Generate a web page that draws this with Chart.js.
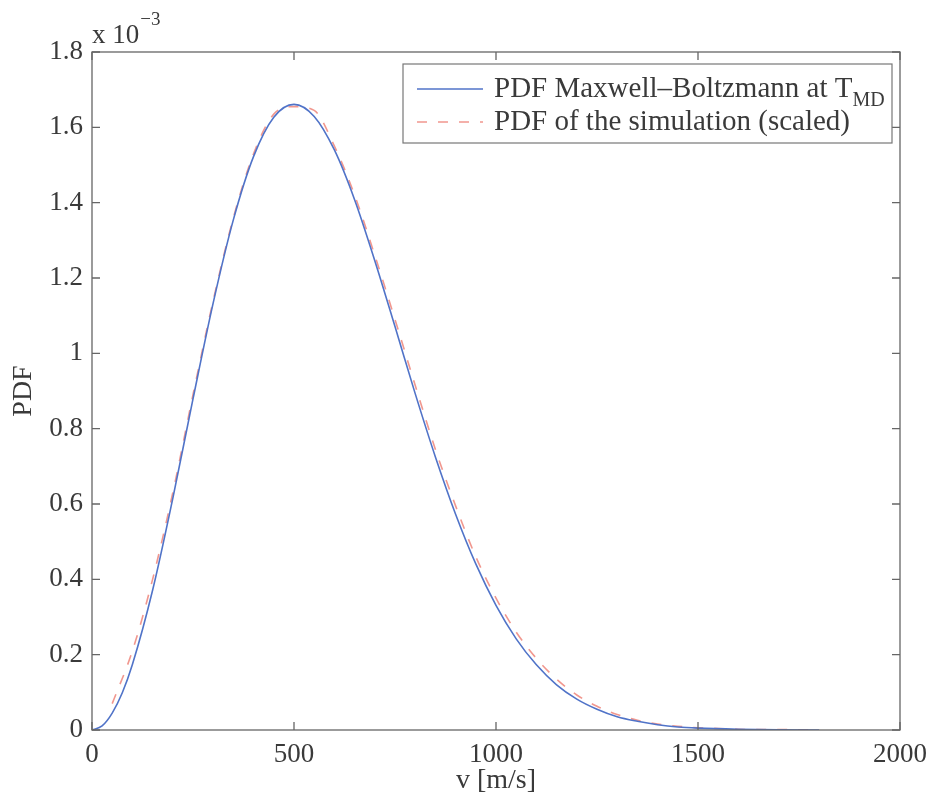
<!DOCTYPE html>
<html>
<head>
<meta charset="utf-8">
<script src="https://cdn.jsdelivr.net/npm/chart.js@4/dist/chart.umd.min.js"></script>
<style>
  html, body { margin: 0; padding: 0; background: #fff; }
  #wrap { width: 936px; height: 797px; }
</style>
</head>
<body>
<div id="wrap"><canvas id="myChart" width="936" height="797"></canvas></div>
<script>
// speed v [m/s] and PDF values in units of 1e-3
const speedMB = [0, 25, 50, 75, 100, 150, 200, 250, 300, 350, 400, 450, 500, 550, 600, 650, 700, 750, 800, 850, 900, 950,
  1000, 1050, 1100, 1150, 1200, 1250, 1300, 1350, 1400, 1450, 1500, 1600, 1700, 1800];
const pdfMB = [0, 0.011, 0.045, 0.099, 0.174, 0.371, 0.615, 0.879, 1.134, 1.355, 1.523, 1.627, 1.661, 1.629, 1.540, 1.408, 1.246, 1.071, 0.893, 0.725, 0.573, 0.441,
  0.331, 0.242, 0.173, 0.120, 0.082, 0.055, 0.035, 0.023, 0.014, 0.008, 0.005, 0.002, 0.0005, 0.0001];

const speedSim = [50, 100, 150, 200, 250, 300, 350, 400, 450, 500, 550, 600, 650, 700, 750, 800, 850, 900, 950,
  1000, 1050, 1100, 1150, 1200, 1250, 1300, 1350, 1400, 1450, 1500, 1550, 1600, 1650, 1700, 1750, 1800];
const pdfSim = [0.07, 0.21, 0.40, 0.63, 0.89, 1.14, 1.36, 1.53, 1.635, 1.655, 1.645, 1.55, 1.42, 1.26, 1.09, 0.915, 0.745, 0.595, 0.46,
  0.35, 0.26, 0.19, 0.135, 0.093, 0.063, 0.041, 0.026, 0.016, 0.010, 0.006, 0.004, 0.002, 0.001, 0.001, 0.0005, 0.0];

const xTicks = [0, 500, 1000, 1500, 2000];
const yTicks = [0, 0.2, 0.4, 0.6, 0.8, 1, 1.2, 1.4, 1.6, 1.8];

const labelMB = "PDF Maxwell\u2013Boltzmann at T";
const labelSim = "PDF of the simulation (scaled)";

const textColor = "#3a3a3a";
const axisColor = "#666666";
const serif = "'Liberation Serif', 'Times New Roman', Times, Tinos, 'Nimbus Roman', 'DejaVu Serif', 'Noto Serif', FreeSerif, serif";

const toPoints = (xs, ys) => xs.map((x, i) => ({ x: x, y: ys[i] }));

// frame with inward ticks on all four sides, exponent label, legend box
const framePlugin = {
  id: "frame",
  afterDraw(chart) {
    const { ctx, chartArea: a, scales } = chart;
    const tl = 8;
    ctx.save();
    ctx.strokeStyle = axisColor;
    ctx.lineWidth = 1.3;
    ctx.strokeRect(a.left, a.top, a.right - a.left, a.bottom - a.top);
    ctx.beginPath();
    xTicks.forEach(t => {
      const px = scales.x.getPixelForValue(t);
      ctx.moveTo(px, a.bottom); ctx.lineTo(px, a.bottom - tl);
      ctx.moveTo(px, a.top); ctx.lineTo(px, a.top + tl);
    });
    yTicks.forEach(t => {
      const py = scales.y.getPixelForValue(t);
      ctx.moveTo(a.left, py); ctx.lineTo(a.left + tl, py);
      ctx.moveTo(a.right, py); ctx.lineTo(a.right - tl, py);
    });
    ctx.stroke();

    // x 10^-3
    ctx.fillStyle = textColor;
    ctx.textBaseline = "alphabetic";
    ctx.textAlign = "left";
    ctx.font = "27px " + serif;
    ctx.fillText("x 10", a.left, a.top - 9);
    const w = ctx.measureText("x 10").width;
    ctx.font = "19px " + serif;
    ctx.fillText("\u22123", a.left + w + 1, a.top - 27);

    // legend
    const bx = 403, by = 64, bw = 489, bh = 79;
    ctx.fillStyle = "#fff";
    ctx.fillRect(bx, by, bw, bh);
    ctx.strokeStyle = "#777";
    ctx.lineWidth = 1.2;
    ctx.strokeRect(bx, by, bw, bh);
    const rows = [89, 122];
    chart.data.datasets.forEach((ds, i) => {
      const y = rows[i];
      ctx.beginPath();
      ctx.strokeStyle = ds.borderColor;
      ctx.lineWidth = ds.borderWidth;
      ctx.setLineDash(ds.borderDash || []);
      ctx.moveTo(417, y); ctx.lineTo(483, y);
      ctx.stroke();
      ctx.setLineDash([]);
      ctx.fillStyle = textColor;
      ctx.font = "29px " + serif;
      ctx.textBaseline = "middle";
      ctx.fillText(ds.label, 494, y);
      if (i === 0) {
        const tw = ctx.measureText(ds.label).width;
        ctx.font = "20px " + serif;
        ctx.fillText("MD", 494 + tw, y + 12);
      }
    });
    ctx.restore();
  }
};

const data = {
  datasets: [
    {
      label: labelMB,
      data: toPoints(speedMB, pdfMB),
      borderColor: "rgba(80, 115, 200, 1)",
      borderWidth: 1.6,
      pointRadius: 0,
      cubicInterpolationMode: "monotone",
      fill: false,
    },
    {
      label: labelSim,
      data: toPoints(speedSim, pdfSim),
      borderColor: "rgba(240, 140, 130, 0.9)",
      borderWidth: 1.6,
      borderDash: [10, 11],
      pointRadius: 0,
      cubicInterpolationMode: "monotone",
      fill: false,
    },
  ],
};

const config = {
  type: "line",
  data: data,
  plugins: [framePlugin],
  options: {
    responsive: false,
    animation: false,
    layout: { padding: { top: 52, right: 32, left: 0, bottom: 0 } },
    plugins: {
      legend: { display: false },
      tooltip: { enabled: false },
    },
    scales: {
      x: {
        type: "linear",
        min: 0,
        max: 2000,
        afterBuildTicks: s => { s.ticks = xTicks.map(v => ({ value: v })); },
        afterFit: s => { s.height = 67; },
        grid: { display: false, drawTicks: false },
        border: { display: false },
        ticks: {
          padding: 9,
          color: textColor,
          font: { family: serif, size: 27 },
          maxRotation: 0,
          callback: v => String(v),
        },
        title: {
          display: true,
          text: "v [m/s]",
          color: textColor,
          font: { family: serif, size: 28, lineHeight: 1.2 },
          padding: { top: 0, bottom: 0 },
        },
      },
      y: {
        min: 0,
        max: 1.8,
        afterBuildTicks: s => { s.ticks = yTicks.map(v => ({ value: v })); },
        afterFit: s => { s.width = 92; },
        grid: { display: false, drawTicks: false },
        border: { display: false },
        ticks: {
          padding: 9,
          color: textColor,
          font: { family: serif, size: 27 },
          callback: v => String(Number(v.toFixed(1))),
        },
        title: {
          display: true,
          text: "PDF",
          color: textColor,
          font: { family: serif, size: 28, lineHeight: 1.2 },
          padding: { top: 7, bottom: 0 },
        },
      },
    },
  },
};

const myChart = new Chart(document.getElementById("myChart"), config);
</script>
</body>
</html>
